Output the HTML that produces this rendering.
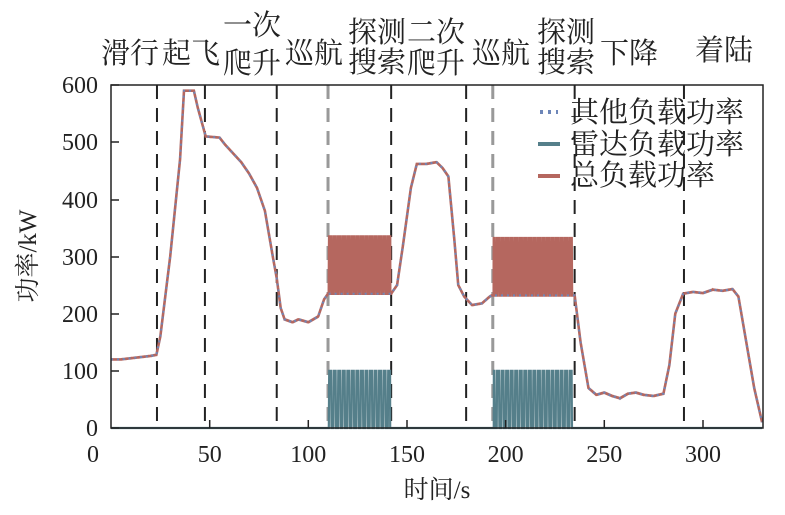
<!DOCTYPE html>
<html><head><meta charset="utf-8"><style>
html,body{margin:0;padding:0;background:#fff}
svg{display:block}
text{font-family:"Liberation Serif","Noto Serif CJK SC","Noto Sans CJK SC",serif;fill:#222}
</style></head><body>
<svg id="s" width="785" height="515" viewBox="0 0 785 515" xmlns="http://www.w3.org/2000/svg">
<g id="g"></g>
<rect x="111" y="85" width="652" height="343" fill="none" stroke="#222" stroke-width="1.5"/>
<g stroke="#222" stroke-width="1.5">
<line x1="111" y1="428" x2="119" y2="428"/><line x1="111" y1="371" x2="119" y2="371"/><line x1="111" y1="314" x2="119" y2="314"/><line x1="111" y1="257" x2="119" y2="257"/><line x1="111" y1="200" x2="119" y2="200"/><line x1="111" y1="142" x2="119" y2="142"/><line x1="111" y1="85" x2="119" y2="85"/>
<line x1="209.7" y1="428" x2="209.7" y2="420"/><line x1="308.3" y1="428" x2="308.3" y2="420"/><line x1="407" y1="428" x2="407" y2="420"/><line x1="505.6" y1="428" x2="505.6" y2="420"/><line x1="604.3" y1="428" x2="604.3" y2="420"/><line x1="703" y1="428" x2="703" y2="420"/>
</g>
<g font-size="24" text-anchor="end">
<text x="98" y="436">0</text><text x="98" y="379">100</text><text x="98" y="322">200</text><text x="98" y="265">300</text><text x="98" y="208">400</text><text x="98" y="150">500</text><text x="98" y="93">600</text>
</g>
<g font-size="24" text-anchor="middle">
<text x="93" y="462">0</text><text x="209.7" y="462">50</text><text x="308.3" y="462">100</text><text x="407" y="462">150</text><text x="505.6" y="462">200</text><text x="604.3" y="462">250</text><text x="703" y="462">300</text>
</g>
<text x="437" y="498" font-size="25" text-anchor="middle">时间/s</text>
<text transform="translate(36,256) rotate(-90)" font-size="25" text-anchor="middle">功率/kW</text>
<g font-size="29">
<text x="101" y="63">滑行</text>
<text x="162" y="63">起飞</text>
<text x="223" y="35">一次</text><text x="223" y="73">爬升</text>
<text x="285" y="63">巡航</text>
<text x="348" y="42">探测</text><text x="348" y="72">搜索</text>
<text x="407" y="42">二次</text><text x="407" y="73">爬升</text>
<text x="472" y="63">巡航</text>
<text x="537" y="42">探测</text><text x="537" y="72">搜索</text>
<text x="600" y="63">下降</text>
<text x="695" y="60">着陆</text>
</g>
<g font-size="29">
<line x1="540" y1="112" x2="558" y2="112" stroke="#6d86b8" stroke-width="4" stroke-dasharray="3,5"/>
<text x="570" y="122">其他负载功率</text>
<line x1="538" y1="144" x2="560" y2="144" stroke="#557f8a" stroke-width="4"/>
<text x="570" y="154">雷达负载功率</text>
<line x1="538" y1="176" x2="560" y2="176" stroke="#b5675f" stroke-width="4"/>
<text x="570" y="185">总负载功率</text>
</g>
</svg>
<script>
var X=function(t){return 111+t*1.973},Y=function(v){return 428-v*0.5717};
var pts=[[0,120],[5,120],[10,122],[15,124],[20,126],[23,128],[25,160],[30,300],[35,470],[37,590],[42,590],[44,560],[48,510],[55,508],[58,495],[62,480],[66,465],[70,445],[74,420],[78,380],[82,300],[84,262],[86,210],[88,190],[92,185],[95,190],[100,185],[105,195],[108,225],[110,235],
[142,235],[145,250],[148,320],[152,420],[155,462],[160,462],[165,465],[168,455],[171,440],[174,330],[176,250],[179,230],[183,215],[188,218],[192,230],[193,232],
[235,232],[238,150],[242,70],[246,58],[250,62],[254,56],[258,52],[262,60],[266,62],[270,58],[275,56],[280,60],[283,110],[286,200],[290,235],[295,238],[300,236],[305,242],[310,240],[315,243],[318,230],[322,150],[326,70],[330,10]];
function lin(t){for(var i=0;i<pts.length-1;i++){if(t>=pts[i][0]&&t<=pts[i+1][0]){var a=pts[i],b=pts[i+1];return a[1]+(b[1]-a[1])*(t-a[0])/(b[0]-a[0]);}}return 0;}
var P=2.3;
function radar(t){if((t>110.3&&t<141.5)||(t>194&&t<234.5)){var ph=(t/P)%1;
 if(ph<0.08)return 100*ph/0.08; if(ph<0.5)return 100; if(ph<0.58)return 100*(1-(ph-0.5)/0.08); return 0;}return 0;}
var other="",rad="",tot="";
for(var i=0;i<=6600;i++){var t=i*0.05;var o=lin(t),r=radar(t);var c=(i==0?"M":"L");
other+=c+X(t).toFixed(2)+","+Y(o).toFixed(1);rad+=c+X(t).toFixed(2)+","+Y(r).toFixed(1);tot+=c+X(t).toFixed(2)+","+Y(o+r).toFixed(1);}
var dl="";[[23.3,"#222"],[47.6,"#222"],[84,"#222"],[110,"#999"],[142,"#222"],[180,"#222"],[193.5,"#999"],[235,"#222"],[290.4,"#222"]].forEach(function(d){dl+='<line x1="'+X(d[0])+'" y1="85" x2="'+X(d[0])+'" y2="428" stroke="'+d[1]+'" stroke-width="'+(d[1]=="#999"?3:2)+'" stroke-dasharray="14,9"/>';});
document.getElementById("g").innerHTML=dl+
'<path d="'+tot+'" fill="none" stroke="#b5675f" stroke-width="2.6"/>'+
'<path d="'+other+'" fill="none" stroke="#6d86b8" stroke-width="2" stroke-dasharray="2,4"/>'+
'<path d="'+rad+'" fill="none" stroke="#557f8a" stroke-width="2.2"/>';
</script>
</body></html>
